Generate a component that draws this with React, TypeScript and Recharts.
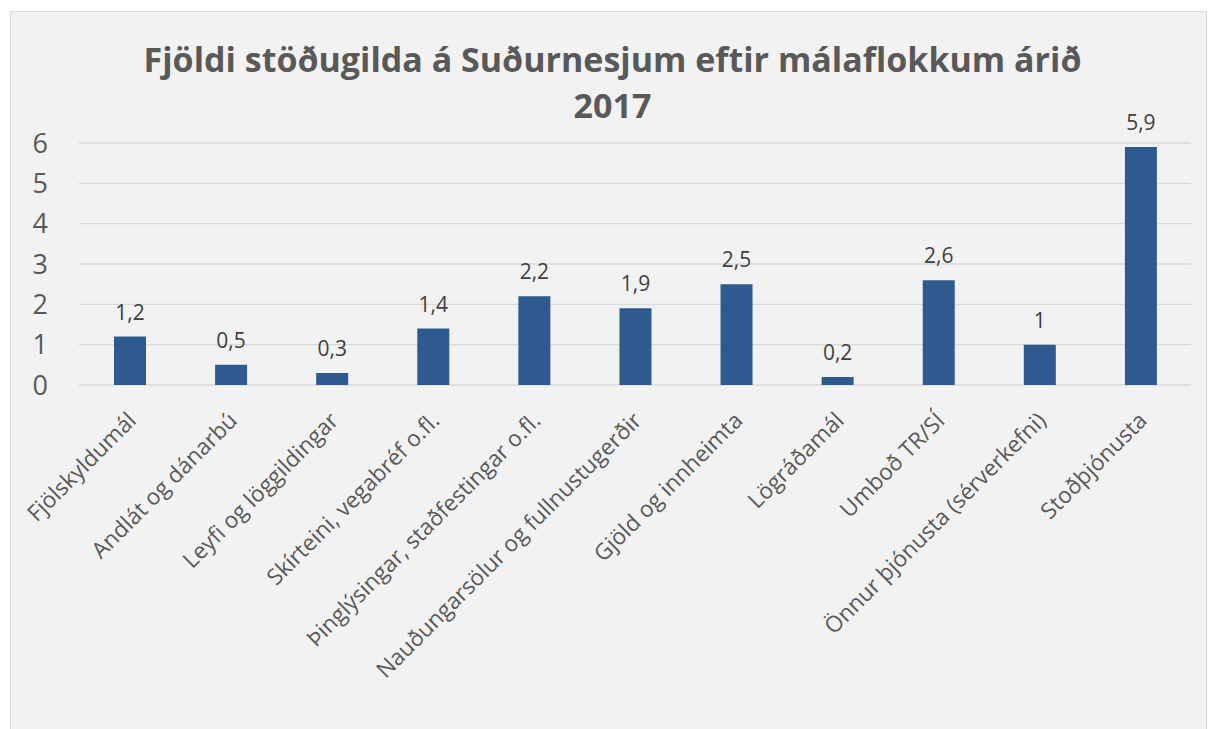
import { BarChart, Bar, XAxis, YAxis, CartesianGrid, LabelList } from "recharts";

const categories = [
  "Fjölskyldumál",
  "Andlát og dánarbú",
  "Leyfi og löggildingar",
  "Skírteini, vegabréf o.fl.",
  "Þinglýsingar, staðfestingar o.fl.",
  "Nauðungarsölur og fullnustugerðir",
  "Gjöld og innheimta",
  "Lögráðamál",
  "Umboð TR/SÍ",
  "Önnur þjónusta (sérverkefni)",
  "Stoðþjónusta",
];
const values = [1.2, 0.5, 0.3, 1.4, 2.2, 1.9, 2.5, 0.2, 2.6, 1, 5.9];
const yTicks = [0, 1, 2, 3, 4, 5, 6];

const data = categories.map((name, i) => ({ name, value: values[i] }));

const FONT = "'Open Sans', 'Noto Sans', sans-serif";

const CategoryTick = (props: any) => {
  const { x, y, payload } = props;
  const ax = x + 8;
  const ay = y + 29;
  return (
    <text
      x={ax}
      y={ay}
      transform={`rotate(-45, ${ax}, ${ay})`}
      textAnchor="end"
      fill="#595959"
      fontSize={22.5}
      fontFamily={FONT}
    >
      {payload.value}
    </text>
  );
};

export default function App() {
  return (
    <div style={{ position: "absolute", left: 0, top: 0, width: 1209, height: 729, background: "#fff", overflow: "hidden" }}>
      <div
        style={{
          position: "absolute",
          left: 10,
          top: 11,
          width: 1195,
          height: 730,
          background: "#F2F2F2",
          border: "1px solid #D9D9D9",
        }}
      >
        <div
          style={{
            position: "absolute",
            left: 0,
            top: 24,
            width: 1203,
            textAlign: "center",
            fontFamily: FONT,
            fontWeight: 700,
            fontSize: 34,
            lineHeight: "46px",
            color: "#595959",
          }}
        >
          <div>Fjöldi stöðugilda á Suðurnesjum eftir málaflokkum árið</div>
          <div>2017</div>
        </div>
        <div style={{ position: "absolute", left: 0, top: 0 }}>
          <BarChart
            width={1195}
            height={716}
            data={data}
            margin={{ top: 131, right: 15, left: 0, bottom: 0 }}
          >
            <CartesianGrid vertical={false} stroke="#D9D9D9" strokeWidth={1.3} />
            <XAxis
              dataKey="name"
              interval={0}
              tickLine={false}
              axisLine={false}
              height={343}
              tick={<CategoryTick />}
            />
            <YAxis
              domain={[0, 6]}
              ticks={yTicks}
              width={68}
              tickLine={false}
              axisLine={false}
              tickSize={0}
              tickMargin={31}
              tick={{ fill: "#595959", fontSize: 27, fontFamily: FONT }}
            />
            <Bar dataKey="value" fill="#2E5A90" barSize={32} isAnimationActive={false}>
              <LabelList
                dataKey="value"
                position="top"
                offset={17}
                fill="#404040"
                fontSize={21}
                fontFamily={FONT}
                formatter={(v: any) => String(v).replace(".", ",")}
              />
            </Bar>
          </BarChart>
        </div>
      </div>
    </div>
  );
}
